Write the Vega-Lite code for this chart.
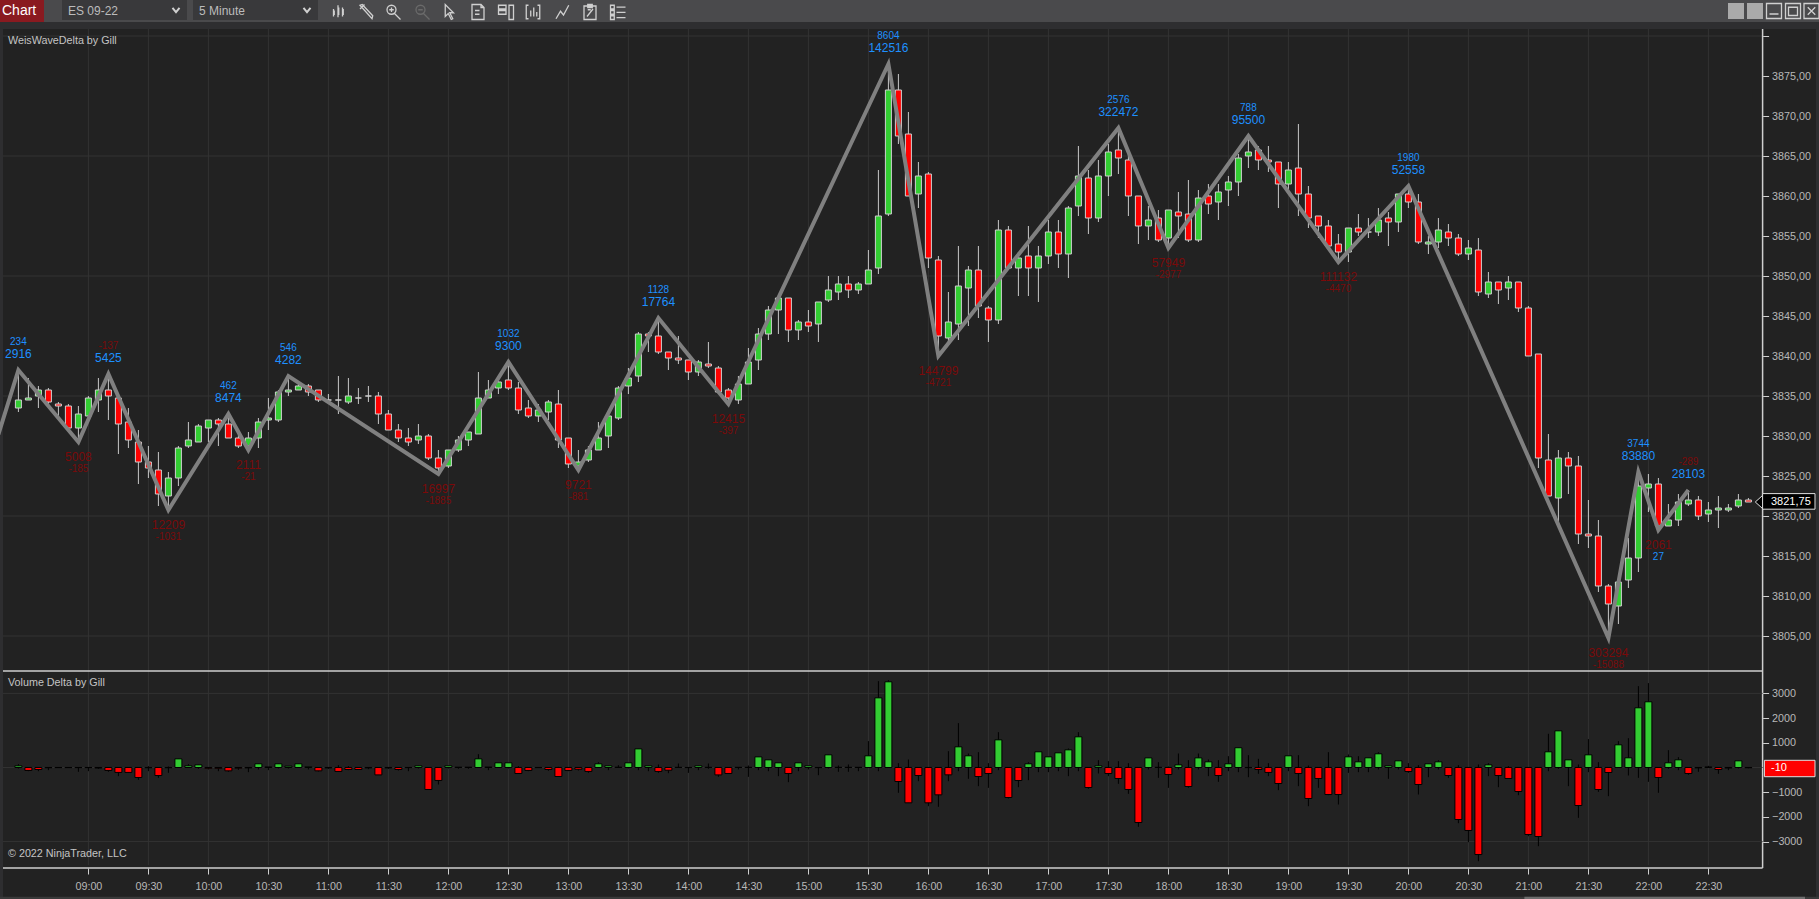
{
"$schema":"https://vega.github.io/schema/vega-lite/v6.json",
"background":"#222222","padding":0,
"autosize":{"type":"none"},
"width":1819,"height":899,
"config":{"view":{"stroke":null},"font":"Liberation Sans","axis":{"labelFont":"Liberation Sans","labelColor":"#b8b8b8","labelFontSize":10.75,"title":null}},
"datasets":{
"bars":[
{"t":"2022-07-01T08:25","o":3833.5,"h":3838.25,"l":3833,"c":3834.5,"d":68,"dh":135,"dl":-40},
{"t":"2022-07-01T08:30","o":3834.5,"h":3837.25,"l":3834.5,"c":3834.75,"d":-120,"dh":0,"dl":-149},
{"t":"2022-07-01T08:35","o":3835,"h":3836.25,"l":3833.5,"c":3835.75,"d":-80,"dh":0,"dl":-149},
{"t":"2022-07-01T08:40","o":3835.75,"h":3836,"l":3834,"c":3834.25,"d":-10,"dh":0,"dl":-108},
{"t":"2022-07-01T08:45","o":3834,"h":3834.25,"l":3832.5,"c":3833.75,"d":-5,"dh":0,"dl":-5},
{"t":"2022-07-01T08:50","o":3833.75,"h":3834,"l":3831,"c":3831,"d":-5,"dh":0,"dl":-5},
{"t":"2022-07-01T08:55","o":3831,"h":3833.75,"l":3829.25,"c":3832.75,"d":-5,"dh":0,"dl":-176},
{"t":"2022-07-01T09:00","o":3832.5,"h":3835,"l":3832.5,"c":3834.75,"d":-5,"dh":0,"dl":-149},
{"t":"2022-07-01T09:05","o":3834.5,"h":3837.25,"l":3833,"c":3835.75,"d":-20,"dh":0,"dl":-54},
{"t":"2022-07-01T09:10","o":3835.75,"h":3837.75,"l":3832,"c":3835,"d":-120,"dh":0,"dl":-176},
{"t":"2022-07-01T09:15","o":3834.75,"h":3834.75,"l":3827.75,"c":3831.5,"d":-200,"dh":0,"dl":-351},
{"t":"2022-07-01T09:20","o":3831.75,"h":3833.5,"l":3828.5,"c":3829.5,"d":-200,"dh":0,"dl":-200},
{"t":"2022-07-01T09:25","o":3829.25,"h":3830.75,"l":3824,"c":3826.75,"d":-405,"dh":0,"dl":-500},
{"t":"2022-07-01T09:30","o":3826.75,"h":3828.75,"l":3824.75,"c":3826,"d":-10,"dh":54,"dl":-149},
{"t":"2022-07-01T09:35","o":3825.75,"h":3828,"l":3821.25,"c":3822.75,"d":-325,"dh":0,"dl":-419},
{"t":"2022-07-01T09:40","o":3822.5,"h":3825.5,"l":3820.75,"c":3824.75,"d":-10,"dh":40,"dl":-216},
{"t":"2022-07-01T09:45","o":3824.75,"h":3828.75,"l":3823.75,"c":3828.5,"d":350,"dh":350,"dl":0},
{"t":"2022-07-01T09:50","o":3828.75,"h":3831.75,"l":3828.5,"c":3829.5,"d":68,"dh":135,"dl":0},
{"t":"2022-07-01T09:55","o":3829.25,"h":3831.5,"l":3829.25,"c":3831.25,"d":108,"dh":108,"dl":-54},
{"t":"2022-07-01T10:00","o":3831,"h":3832,"l":3829.25,"c":3832,"d":-30,"dh":0,"dl":-81},
{"t":"2022-07-01T10:05","o":3832,"h":3832.25,"l":3828.75,"c":3831.5,"d":-30,"dh":0,"dl":-149},
{"t":"2022-07-01T10:10","o":3831.5,"h":3832.75,"l":3829.75,"c":3829.75,"d":-135,"dh":0,"dl":-176},
{"t":"2022-07-01T10:15","o":3829.75,"h":3830.25,"l":3828.5,"c":3828.75,"d":-25,"dh":0,"dl":-95},
{"t":"2022-07-01T10:20","o":3828.75,"h":3830.5,"l":3828.25,"c":3829.75,"d":-15,"dh":0,"dl":-189},
{"t":"2022-07-01T10:25","o":3829.75,"h":3832.25,"l":3828.5,"c":3831.75,"d":150,"dh":150,"dl":-81},
{"t":"2022-07-01T10:30","o":3832,"h":3834.75,"l":3830.75,"c":3832.25,"d":20,"dh":20,"dl":-108},
{"t":"2022-07-01T10:35","o":3832,"h":3835.75,"l":3831.75,"c":3835.5,"d":150,"dh":150,"dl":-40},
{"t":"2022-07-01T10:40","o":3835.5,"h":3837.5,"l":3835,"c":3835.75,"d":55,"dh":55,"dl":-40},
{"t":"2022-07-01T10:45","o":3835.75,"h":3836.5,"l":3835.75,"c":3836.25,"d":150,"dh":150,"dl":-15},
{"t":"2022-07-01T10:50","o":3836.25,"h":3836.5,"l":3835,"c":3835.5,"d":25,"dh":25,"dl":-81},
{"t":"2022-07-01T10:55","o":3835.75,"h":3835.75,"l":3834.25,"c":3834.5,"d":-135,"dh":0,"dl":-162},
{"t":"2022-07-01T11:00","o":3834.5,"h":3835.25,"l":3834.25,"c":3834.5,"d":-15,"dh":0,"dl":-54},
{"t":"2022-07-01T11:05","o":3834.5,"h":3837.5,"l":3832.75,"c":3834.5,"d":-160,"dh":95,"dl":-160},
{"t":"2022-07-01T11:10","o":3834.25,"h":3837.25,"l":3834,"c":3835,"d":-80,"dh":54,"dl":-108},
{"t":"2022-07-01T11:15","o":3834.75,"h":3836,"l":3834,"c":3834.75,"d":-80,"dh":0,"dl":-80},
{"t":"2022-07-01T11:20","o":3835,"h":3836.25,"l":3834.25,"c":3835,"d":-15,"dh":0,"dl":-68},
{"t":"2022-07-01T11:25","o":3835,"h":3835.5,"l":3831.5,"c":3832.75,"d":-300,"dh":0,"dl":-300},
{"t":"2022-07-01T11:30","o":3832.75,"h":3833.25,"l":3830.75,"c":3830.75,"d":-15,"dh":0,"dl":-54},
{"t":"2022-07-01T11:35","o":3830.75,"h":3831.5,"l":3829.25,"c":3829.75,"d":-80,"dh":0,"dl":-122},
{"t":"2022-07-01T11:40","o":3829.75,"h":3831,"l":3828.75,"c":3829.25,"d":-5,"dh":0,"dl":-149},
{"t":"2022-07-01T11:45","o":3829.5,"h":3831.5,"l":3829,"c":3830,"d":68,"dh":68,"dl":-40},
{"t":"2022-07-01T11:50","o":3830,"h":3830.25,"l":3827,"c":3827.25,"d":-890,"dh":0,"dl":-890},
{"t":"2022-07-01T11:55","o":3827.25,"h":3828.25,"l":3825.25,"c":3826,"d":-525,"dh":0,"dl":-689},
{"t":"2022-07-01T12:00","o":3826.25,"h":3828.25,"l":3826,"c":3828.25,"d":68,"dh":68,"dl":-40},
{"t":"2022-07-01T12:05","o":3828.25,"h":3830,"l":3828,"c":3829.5,"d":10,"dh":10,"dl":-54},
{"t":"2022-07-01T12:10","o":3829.5,"h":3830.5,"l":3828.75,"c":3830.5,"d":10,"dh":10,"dl":-54},
{"t":"2022-07-01T12:15","o":3830.25,"h":3838,"l":3830.25,"c":3834.75,"d":350,"dh":540,"dl":0},
{"t":"2022-07-01T12:20","o":3834.75,"h":3837,"l":3834.75,"c":3835.75,"d":15,"dh":15,"dl":-108},
{"t":"2022-07-01T12:25","o":3836,"h":3837,"l":3835.25,"c":3836.75,"d":190,"dh":190,"dl":0},
{"t":"2022-07-01T12:30","o":3837,"h":3839.25,"l":3835.75,"c":3836,"d":190,"dh":190,"dl":-40},
{"t":"2022-07-01T12:35","o":3836,"h":3836.75,"l":3832.75,"c":3833.25,"d":-243,"dh":54,"dl":-243},
{"t":"2022-07-01T12:40","o":3833.5,"h":3834.5,"l":3832.25,"c":3832.5,"d":-120,"dh":0,"dl":-149},
{"t":"2022-07-01T12:45","o":3832.5,"h":3834,"l":3831.75,"c":3833.25,"d":-5,"dh":0,"dl":-5},
{"t":"2022-07-01T12:50","o":3833,"h":3834.5,"l":3832,"c":3834.25,"d":-80,"dh":0,"dl":-135},
{"t":"2022-07-01T12:55","o":3834,"h":3835.75,"l":3828.5,"c":3829.5,"d":-365,"dh":27,"dl":-365},
{"t":"2022-07-01T13:00","o":3829.75,"h":3829.75,"l":3826,"c":3826.5,"d":-120,"dh":0,"dl":-149},
{"t":"2022-07-01T13:05","o":3826.25,"h":3828.25,"l":3825.5,"c":3826.75,"d":-70,"dh":0,"dl":-122},
{"t":"2022-07-01T13:10","o":3827,"h":3828.75,"l":3826.75,"c":3828.25,"d":-160,"dh":0,"dl":-216},
{"t":"2022-07-01T13:15","o":3828.25,"h":3831.75,"l":3828.25,"c":3829.75,"d":150,"dh":216,"dl":0},
{"t":"2022-07-01T13:20","o":3830,"h":3832.75,"l":3828.5,"c":3832.5,"d":68,"dh":68,"dl":-108},
{"t":"2022-07-01T13:25","o":3832.25,"h":3836.25,"l":3832,"c":3836,"d":10,"dh":95,"dl":-20},
{"t":"2022-07-01T13:30","o":3836.25,"h":3838.5,"l":3835.25,"c":3837.25,"d":190,"dh":190,"dl":-40},
{"t":"2022-07-01T13:35","o":3837.5,"h":3843,"l":3836.75,"c":3842.75,"d":755,"dh":755,"dl":-108},
{"t":"2022-07-01T13:40","o":3842.75,"h":3843,"l":3840.5,"c":3842.5,"d":68,"dh":68,"dl":-149},
{"t":"2022-07-01T13:45","o":3842.5,"h":3844.75,"l":3840.25,"c":3840.5,"d":-160,"dh":122,"dl":-216},
{"t":"2022-07-01T13:50","o":3840.5,"h":3840.5,"l":3838.25,"c":3839.75,"d":-110,"dh":0,"dl":-230},
{"t":"2022-07-01T13:55","o":3839.75,"h":3842.5,"l":3839,"c":3839.5,"d":5,"dh":162,"dl":-20},
{"t":"2022-07-01T14:00","o":3839.5,"h":3839.5,"l":3837,"c":3838,"d":-3,"dh":0,"dl":-216},
{"t":"2022-07-01T14:05","o":3838,"h":3839.5,"l":3837.5,"c":3839.25,"d":68,"dh":68,"dl":-108},
{"t":"2022-07-01T14:10","o":3839,"h":3841.75,"l":3838.5,"c":3838.75,"d":5,"dh":162,"dl":-54},
{"t":"2022-07-01T14:15","o":3838.5,"h":3838.75,"l":3835.25,"c":3835.5,"d":-300,"dh":0,"dl":-378},
{"t":"2022-07-01T14:20","o":3835.75,"h":3836,"l":3834,"c":3834.75,"d":-243,"dh":0,"dl":-243},
{"t":"2022-07-01T14:25","o":3834.5,"h":3837.5,"l":3834,"c":3836.5,"d":5,"dh":5,"dl":-81},
{"t":"2022-07-01T14:30","o":3836.5,"h":3841,"l":3836.5,"c":3839.25,"d":5,"dh":81,"dl":-378},
{"t":"2022-07-01T14:35","o":3839.5,"h":3843.5,"l":3838.25,"c":3842.75,"d":430,"dh":430,"dl":-108},
{"t":"2022-07-01T14:40","o":3842.75,"h":3846.25,"l":3842,"c":3845.75,"d":310,"dh":310,"dl":-149},
{"t":"2022-07-01T14:45","o":3845.75,"h":3847.5,"l":3842.75,"c":3847.25,"d":190,"dh":190,"dl":-351},
{"t":"2022-07-01T14:50","o":3847.25,"h":3847.25,"l":3841.75,"c":3843.25,"d":-243,"dh":0,"dl":-594},
{"t":"2022-07-01T14:55","o":3843.25,"h":3844.5,"l":3842,"c":3844.25,"d":190,"dh":190,"dl":-149},
{"t":"2022-07-01T15:00","o":3844.25,"h":3845.75,"l":3843,"c":3843.75,"d":68,"dh":68,"dl":-81},
{"t":"2022-07-01T15:05","o":3844,"h":3846.75,"l":3841.75,"c":3846.75,"d":-5,"dh":0,"dl":-311},
{"t":"2022-07-01T15:10","o":3847,"h":3850,"l":3846.75,"c":3848.25,"d":513,"dh":513,"dl":-40},
{"t":"2022-07-01T15:15","o":3848,"h":3850,"l":3847,"c":3849,"d":5,"dh":81,"dl":-176},
{"t":"2022-07-01T15:20","o":3849,"h":3850,"l":3847.25,"c":3848.25,"d":5,"dh":122,"dl":-176},
{"t":"2022-07-01T15:25","o":3848.25,"h":3849.25,"l":3847.75,"c":3849,"d":5,"dh":5,"dl":-149},
{"t":"2022-07-01T15:30","o":3849,"h":3853.25,"l":3849,"c":3850.75,"d":473,"dh":1067,"dl":0},
{"t":"2022-07-01T15:35","o":3851,"h":3863.25,"l":3850.25,"c":3857.5,"d":2820,"dh":3497,"dl":-149},
{"t":"2022-07-01T15:40","o":3857.75,"h":3876.5,"l":3857.5,"c":3873.25,"d":3470,"dh":3537,"dl":0},
{"t":"2022-07-01T15:45","o":3873.25,"h":3875.25,"l":3866.5,"c":3867.5,"d":-567,"dh":176,"dl":-1026},
{"t":"2022-07-01T15:50","o":3867.75,"h":3870.5,"l":3860,"c":3860,"d":-1430,"dh":324,"dl":-1430},
{"t":"2022-07-01T15:55","o":3860.25,"h":3864.25,"l":3858.5,"c":3862.5,"d":-324,"dh":0,"dl":-554},
{"t":"2022-07-01T16:00","o":3862.75,"h":3863,"l":3851,"c":3852.25,"d":-1430,"dh":0,"dl":-1566},
{"t":"2022-07-01T16:05","o":3852,"h":3852.5,"l":3840,"c":3842.5,"d":-1107,"dh":0,"dl":-1593},
{"t":"2022-07-01T16:10","o":3842.25,"h":3848,"l":3841.75,"c":3844.25,"d":-297,"dh":662,"dl":-554},
{"t":"2022-07-01T16:15","o":3844,"h":3853.75,"l":3842,"c":3848.75,"d":837,"dh":1796,"dl":-149},
{"t":"2022-07-01T16:20","o":3848.5,"h":3851.25,"l":3843.75,"c":3850.75,"d":473,"dh":567,"dl":-459},
{"t":"2022-07-01T16:25","o":3850.75,"h":3853.75,"l":3844.75,"c":3846.25,"d":-365,"dh":621,"dl":-756},
{"t":"2022-07-01T16:30","o":3846,"h":3846.25,"l":3841.75,"c":3844.5,"d":-243,"dh":176,"dl":-824},
{"t":"2022-07-01T16:35","o":3844.5,"h":3857,"l":3844,"c":3855.75,"d":1120,"dh":1431,"dl":-108},
{"t":"2022-07-01T16:40","o":3855.75,"h":3856.25,"l":3851,"c":3851,"d":-1215,"dh":0,"dl":-1256},
{"t":"2022-07-01T16:45","o":3851,"h":3853,"l":3847.5,"c":3852.25,"d":-526,"dh":0,"dl":-797},
{"t":"2022-07-01T16:50","o":3852.5,"h":3856.25,"l":3847.5,"c":3851,"d":150,"dh":216,"dl":-513},
{"t":"2022-07-01T16:55","o":3851,"h":3853.75,"l":3846.75,"c":3852.5,"d":635,"dh":635,"dl":-189},
{"t":"2022-07-01T17:00","o":3852.5,"h":3857,"l":3851.5,"c":3855.5,"d":432,"dh":432,"dl":-189},
{"t":"2022-07-01T17:05","o":3855.5,"h":3857,"l":3851,"c":3852.75,"d":594,"dh":594,"dl":-149},
{"t":"2022-07-01T17:10","o":3852.75,"h":3858.75,"l":3849.75,"c":3858.5,"d":715,"dh":770,"dl":-351},
{"t":"2022-07-01T17:15","o":3858.75,"h":3866.25,"l":3857.5,"c":3862.5,"d":1242,"dh":1431,"dl":-149},
{"t":"2022-07-01T17:20","o":3862.25,"h":3863.25,"l":3855.25,"c":3857.25,"d":-810,"dh":0,"dl":-864},
{"t":"2022-07-01T17:25","o":3857.25,"h":3864.5,"l":3856.75,"c":3862.5,"d":68,"dh":297,"dl":-243},
{"t":"2022-07-01T17:30","o":3862.5,"h":3866.5,"l":3860,"c":3865.5,"d":-243,"dh":257,"dl":-351},
{"t":"2022-07-01T17:35","o":3865.75,"h":3868.5,"l":3862.75,"c":3864.75,"d":-445,"dh":257,"dl":-662},
{"t":"2022-07-01T17:40","o":3864.5,"h":3865.25,"l":3857.5,"c":3860,"d":-890,"dh":176,"dl":-1067},
{"t":"2022-07-01T17:45","o":3860,"h":3860,"l":3854,"c":3856.25,"d":-2228,"dh":0,"dl":-2403},
{"t":"2022-07-01T17:50","o":3856.25,"h":3858.75,"l":3854.5,"c":3857,"d":390,"dh":390,"dl":-81},
{"t":"2022-07-01T17:55","o":3857.25,"h":3858.25,"l":3854.25,"c":3854.5,"d":5,"dh":216,"dl":-419},
{"t":"2022-07-01T18:00","o":3854.75,"h":3858.25,"l":3853.5,"c":3858.25,"d":-283,"dh":40,"dl":-824},
{"t":"2022-07-01T18:05","o":3858,"h":3860.5,"l":3854.75,"c":3857.5,"d":108,"dh":567,"dl":-81},
{"t":"2022-07-01T18:10","o":3857.75,"h":3862,"l":3854.25,"c":3854.5,"d":-770,"dh":297,"dl":-824},
{"t":"2022-07-01T18:15","o":3854.5,"h":3860.75,"l":3854.25,"c":3859.75,"d":390,"dh":567,"dl":-81},
{"t":"2022-07-01T18:20","o":3860,"h":3861.5,"l":3857.75,"c":3859,"d":230,"dh":324,"dl":-351},
{"t":"2022-07-01T18:25","o":3859.25,"h":3861.5,"l":3857,"c":3860.5,"d":-324,"dh":297,"dl":-581},
{"t":"2022-07-01T18:30","o":3860.75,"h":3862.5,"l":3858.75,"c":3861.75,"d":150,"dh":459,"dl":-149},
{"t":"2022-07-01T18:35","o":3861.75,"h":3865.25,"l":3860,"c":3864.75,"d":800,"dh":800,"dl":-189},
{"t":"2022-07-01T18:40","o":3865,"h":3867.5,"l":3863.5,"c":3865.5,"d":-5,"dh":500,"dl":-392},
{"t":"2022-07-01T18:45","o":3865.75,"h":3866.25,"l":3863.25,"c":3864.5,"d":-80,"dh":351,"dl":-257},
{"t":"2022-07-01T18:50","o":3864.5,"h":3866.25,"l":3863,"c":3864.25,"d":-200,"dh":176,"dl":-351},
{"t":"2022-07-01T18:55","o":3864.25,"h":3864.25,"l":3858.5,"c":3861.5,"d":-648,"dh":0,"dl":-918},
{"t":"2022-07-01T19:00","o":3861.5,"h":3864.25,"l":3860.75,"c":3863.25,"d":473,"dh":473,"dl":-149},
{"t":"2022-07-01T19:05","o":3863.5,"h":3869,"l":3857.5,"c":3860.25,"d":-243,"dh":500,"dl":-756},
{"t":"2022-07-01T19:10","o":3860.25,"h":3861.25,"l":3856,"c":3857.25,"d":-1255,"dh":81,"dl":-1566},
{"t":"2022-07-01T19:15","o":3857.5,"h":3857.5,"l":3854.75,"c":3856.25,"d":-445,"dh":0,"dl":-824},
{"t":"2022-07-01T19:20","o":3856.25,"h":3857,"l":3853.75,"c":3853.75,"d":-1094,"dh":621,"dl":-1121},
{"t":"2022-07-01T19:25","o":3854,"h":3855.25,"l":3851.75,"c":3853,"d":-1094,"dh":0,"dl":-1499},
{"t":"2022-07-01T19:30","o":3853,"h":3856,"l":3851.75,"c":3856,"d":432,"dh":527,"dl":-216},
{"t":"2022-07-01T19:35","o":3856,"h":3857.75,"l":3855,"c":3855.5,"d":230,"dh":459,"dl":-189},
{"t":"2022-07-01T19:40","o":3855.5,"h":3857.25,"l":3854.75,"c":3855.5,"d":392,"dh":392,"dl":-189},
{"t":"2022-07-01T19:45","o":3855.5,"h":3858.5,"l":3855,"c":3857,"d":554,"dh":621,"dl":-81},
{"t":"2022-07-01T19:50","o":3857.25,"h":3858,"l":3853.75,"c":3856.75,"d":68,"dh":68,"dl":-459},
{"t":"2022-07-01T19:55","o":3856.75,"h":3860.25,"l":3855.5,"c":3860.25,"d":270,"dh":270,"dl":-81},
{"t":"2022-07-01T20:00","o":3860.25,"h":3861.25,"l":3858.5,"c":3859.25,"d":-162,"dh":176,"dl":-216},
{"t":"2022-07-01T20:05","o":3859.25,"h":3860.25,"l":3854,"c":3854.25,"d":-689,"dh":95,"dl":-1094},
{"t":"2022-07-01T20:10","o":3854,"h":3855,"l":3852.75,"c":3854.25,"d":150,"dh":150,"dl":-392},
{"t":"2022-07-01T20:15","o":3854.25,"h":3857.25,"l":3853.5,"c":3855.75,"d":230,"dh":297,"dl":-81},
{"t":"2022-07-01T20:20","o":3855.5,"h":3856.5,"l":3853.75,"c":3854.75,"d":-324,"dh":0,"dl":-419},
{"t":"2022-07-01T20:25","o":3854.75,"h":3855.25,"l":3852.5,"c":3852.75,"d":-2106,"dh":95,"dl":-2255},
{"t":"2022-07-01T20:30","o":3852.75,"h":3854.5,"l":3852,"c":3853.5,"d":-2550,"dh":0,"dl":-3024},
{"t":"2022-07-01T20:35","o":3853.25,"h":3854.75,"l":3847.5,"c":3848,"d":-3524,"dh":122,"dl":-3794},
{"t":"2022-07-01T20:40","o":3847.75,"h":3850.5,"l":3847.25,"c":3849.25,"d":108,"dh":176,"dl":-351},
{"t":"2022-07-01T20:45","o":3849.25,"h":3849.25,"l":3846.5,"c":3848.25,"d":-324,"dh":0,"dl":-797},
{"t":"2022-07-01T20:50","o":3848.5,"h":3850,"l":3847,"c":3849.25,"d":-445,"dh":54,"dl":-445},
{"t":"2022-07-01T20:55","o":3849.25,"h":3849.25,"l":3845.5,"c":3846,"d":-972,"dh":0,"dl":-1121},
{"t":"2022-07-01T21:00","o":3846,"h":3846.25,"l":3840,"c":3840,"d":-2713,"dh":0,"dl":-2781},
{"t":"2022-07-01T21:05","o":3840.25,"h":3840.25,"l":3826,"c":3827.25,"d":-2794,"dh":0,"dl":-3186},
{"t":"2022-07-01T21:10","o":3827,"h":3830.25,"l":3822.5,"c":3822.5,"d":635,"dh":1364,"dl":-149},
{"t":"2022-07-01T21:15","o":3822.25,"h":3828.25,"l":3819.25,"c":3827.25,"d":1485,"dh":1485,"dl":-54},
{"t":"2022-07-01T21:20","o":3827.25,"h":3828,"l":3822.75,"c":3826.25,"d":310,"dh":310,"dl":-756},
{"t":"2022-07-01T21:25","o":3826.25,"h":3827.5,"l":3816.5,"c":3817.75,"d":-1539,"dh":122,"dl":-2039},
{"t":"2022-07-01T21:30","o":3817.75,"h":3822,"l":3816,"c":3817.5,"d":513,"dh":1148,"dl":-189},
{"t":"2022-07-01T21:35","o":3817.5,"h":3819.5,"l":3810.5,"c":3811.25,"d":-891,"dh":216,"dl":-986},
{"t":"2022-07-01T21:40","o":3811.25,"h":3811.5,"l":3804.75,"c":3809,"d":-203,"dh":14,"dl":-1161},
{"t":"2022-07-01T21:45","o":3808.75,"h":3811.75,"l":3806.5,"c":3811.75,"d":918,"dh":1067,"dl":0},
{"t":"2022-07-01T21:50","o":3812,"h":3817.25,"l":3811,"c":3814.75,"d":392,"dh":1188,"dl":-324},
{"t":"2022-07-01T21:55","o":3814.75,"h":3825.25,"l":3813,"c":3823.75,"d":2417,"dh":3294,"dl":-419},
{"t":"2022-07-01T22:00","o":3823.5,"h":3825.25,"l":3820.5,"c":3824,"d":2660,"dh":3416,"dl":-581},
{"t":"2022-07-01T22:05","o":3824,"h":3824.75,"l":3818.25,"c":3818.75,"d":-405,"dh":0,"dl":-1026},
{"t":"2022-07-01T22:10","o":3818.75,"h":3821.5,"l":3818.75,"c":3819.5,"d":190,"dh":702,"dl":-54},
{"t":"2022-07-01T22:15","o":3819.5,"h":3822.75,"l":3818.75,"c":3821.75,"d":310,"dh":419,"dl":-108},
{"t":"2022-07-01T22:20","o":3821.5,"h":3823.25,"l":3821.25,"c":3822,"d":-243,"dh":0,"dl":-297},
{"t":"2022-07-01T22:25","o":3822,"h":3822.5,"l":3819.5,"c":3820,"d":-15,"dh":0,"dl":-176},
{"t":"2022-07-01T22:30","o":3820.25,"h":3821.75,"l":3819.25,"c":3820.75,"d":20,"dh":68,"dl":0},
{"t":"2022-07-01T22:35","o":3820.75,"h":3822.5,"l":3818.5,"c":3821,"d":-80,"dh":0,"dl":-257},
{"t":"2022-07-01T22:40","o":3820.75,"h":3821.5,"l":3820.5,"c":3821,"d":-20,"dh":0,"dl":-108},
{"t":"2022-07-01T22:45","o":3821.25,"h":3822.75,"l":3821,"c":3822,"d":270,"dh":270,"dl":-40},
{"t":"2022-07-01T22:50","o":3822,"h":3822.25,"l":3821.75,"c":3821.75,"d":-10,"dh":0,"dl":-30}
],
"pivots":[
{"t":"2022-07-01T08:15","p":3830.2,"kind":"start"},
{"t":"2022-07-01T08:25","p":3838.25,"kind":"peak","vol":"2916","delta":234},
{"t":"2022-07-01T08:55","p":3829.25,"kind":"trough","vol":"5008","delta":-185},
{"t":"2022-07-01T09:10","p":3837.75,"kind":"peak","vol":"5425","delta":-137},
{"t":"2022-07-01T09:40","p":3820.75,"kind":"trough","vol":"12209","delta":-1031},
{"t":"2022-07-01T10:10","p":3832.75,"kind":"peak","vol":"8474","delta":462},
{"t":"2022-07-01T10:20","p":3828.25,"kind":"trough","vol":"2111","delta":-21},
{"t":"2022-07-01T10:40","p":3837.5,"kind":"peak","vol":"4282","delta":546},
{"t":"2022-07-01T11:55","p":3825.25,"kind":"trough","vol":"16997","delta":-1885},
{"t":"2022-07-01T12:30","p":3839.25,"kind":"peak","vol":"9300","delta":1032},
{"t":"2022-07-01T13:05","p":3825.75,"kind":"trough","vol":"9721","delta":-881},
{"t":"2022-07-01T13:45","p":3844.75,"kind":"peak","vol":"17764","delta":1128},
{"t":"2022-07-01T14:20","p":3834,"kind":"trough","vol":"12415","delta":-397},
{"t":"2022-07-01T15:40","p":3876.5,"kind":"peak","vol":"142516","delta":8604},
{"t":"2022-07-01T16:05","p":3840,"kind":"trough","vol":"144799","delta":-4721},
{"t":"2022-07-01T17:35","p":3868.5,"kind":"peak","vol":"322472","delta":2576},
{"t":"2022-07-01T18:00","p":3853.5,"kind":"trough","vol":"57949","delta":-2977},
{"t":"2022-07-01T18:40","p":3867.5,"kind":"peak","vol":"95500","delta":788},
{"t":"2022-07-01T19:25","p":3851.75,"kind":"trough","vol":"111132","delta":-4470},
{"t":"2022-07-01T20:00","p":3861.25,"kind":"peak","vol":"52558","delta":1980},
{"t":"2022-07-01T21:40","p":3804.75,"kind":"trough","vol":"303294","delta":-15088},
{"t":"2022-07-01T21:55","p":3825.5,"kind":"peak","vol":"83880","delta":3744},
{"t":"2022-07-01T22:05","p":3818.25,"kind":"trough","vol":"2061","delta":27},
{"t":"2022-07-01T22:20","p":3823.25,"kind":"peak","vol":"28103","delta":-289}
],
"chrome":[
{"part":"toolbar","t":"2022-07-01T08:15:48","t2":"2022-07-01T23:25:18","p":3884.5,"p2":3881.75},
{"part":"strip","t":"2022-07-01T08:15:48","t2":"2022-07-01T23:25:18","p":3881.75,"p2":3880.875},
{"part":"strip","t":"2022-07-01T08:15:48","t2":"2022-07-01T08:17:18","p":3880.875,"p2":3772.125},
{"part":"strip","t":"2022-07-01T23:23:48","t2":"2022-07-01T23:25:18","p":3880.875,"p2":3772.125},
{"part":"chart","t":"2022-07-01T08:15:48","t2":"2022-07-01T08:37:48","p":3884.5,"p2":3881.75},
{"part":"drop","t":"2022-07-01T08:46:48","t2":"2022-07-01T09:49:18","p":3884.5,"p2":3882},
{"part":"drop","t":"2022-07-01T09:52:18","t2":"2022-07-01T10:54:48","p":3884.5,"p2":3882},
{"part":"button","t":"2022-07-01T22:39:48","t2":"2022-07-01T22:47:48","p":3884.125,"p2":3882.125},
{"part":"button","t":"2022-07-01T22:49:18","t2":"2022-07-01T22:57:18","p":3884.125,"p2":3882.125},
{"part":"track","t":"2022-07-01T08:15:48","t2":"2022-07-01T23:25:18","p":3772.4,"p2":3772.125},
{"part":"thumb","t":"2022-07-01T20:58:00","t2":"2022-07-01T23:18:18","p":3772.4,"p2":3772.125}
],
"icons":[
{"icon":"candles","t":"2022-07-01T11:04:48","p":3883},
{"icon":"pencil","t":"2022-07-01T11:18:48","p":3883},
{"icon":"zoomin","t":"2022-07-01T11:32:18","p":3883},
{"icon":"zoomout","t":"2022-07-01T11:46:48","p":3883},
{"icon":"cursor","t":"2022-07-01T12:00:18","p":3883},
{"icon":"doc","t":"2022-07-01T12:14:48","p":3883},
{"icon":"props","t":"2022-07-01T12:28:48","p":3883},
{"icon":"indicators","t":"2022-07-01T12:42:18","p":3883},
{"icon":"lines","t":"2022-07-01T12:56:48","p":3883},
{"icon":"clip","t":"2022-07-01T13:10:48","p":3883},
{"icon":"list","t":"2022-07-01T13:24:48","p":3883},
{"icon":"min","t":"2022-07-01T23:02:48","p":3883.125},
{"icon":"max","t":"2022-07-01T23:12:18","p":3883.125},
{"icon":"close","t":"2022-07-01T23:21:33","p":3883.125}
],
"timeGrid":[
{"t":"2022-07-01T09:00","p":3880.875,"p2":3776.375},{"t":"2022-07-01T09:30","p":3880.875,"p2":3776.375},{"t":"2022-07-01T10:00","p":3880.875,"p2":3776.375},{"t":"2022-07-01T10:30","p":3880.875,"p2":3776.375},{"t":"2022-07-01T11:00","p":3880.875,"p2":3776.375},{"t":"2022-07-01T11:30","p":3880.875,"p2":3776.375},{"t":"2022-07-01T12:00","p":3880.875,"p2":3776.375},{"t":"2022-07-01T12:30","p":3880.875,"p2":3776.375},{"t":"2022-07-01T13:00","p":3880.875,"p2":3776.375},{"t":"2022-07-01T13:30","p":3880.875,"p2":3776.375},{"t":"2022-07-01T14:00","p":3880.875,"p2":3776.375},{"t":"2022-07-01T14:30","p":3880.875,"p2":3776.375},{"t":"2022-07-01T15:00","p":3880.875,"p2":3776.375},{"t":"2022-07-01T15:30","p":3880.875,"p2":3776.375},{"t":"2022-07-01T16:00","p":3880.875,"p2":3776.375},{"t":"2022-07-01T16:30","p":3880.875,"p2":3776.375},{"t":"2022-07-01T17:00","p":3880.875,"p2":3776.375},{"t":"2022-07-01T17:30","p":3880.875,"p2":3776.375},{"t":"2022-07-01T18:00","p":3880.875,"p2":3776.375},{"t":"2022-07-01T18:30","p":3880.875,"p2":3776.375},{"t":"2022-07-01T19:00","p":3880.875,"p2":3776.375},{"t":"2022-07-01T19:30","p":3880.875,"p2":3776.375},{"t":"2022-07-01T20:00","p":3880.875,"p2":3776.375},{"t":"2022-07-01T20:30","p":3880.875,"p2":3776.375},{"t":"2022-07-01T21:00","p":3880.875,"p2":3776.375},{"t":"2022-07-01T21:30","p":3880.875,"p2":3776.375},{"t":"2022-07-01T22:00","p":3880.875,"p2":3776.375},{"t":"2022-07-01T22:30","p":3880.875,"p2":3776.375}
]
},
"encoding":{
"x":{"field":"t","type":"temporal","scale":{"nice":false,"padding":0,"domain":[{"year":2022,"month":7,"date":1,"hours":8,"minutes":15,"seconds":48},{"year":2022,"month":7,"date":1,"hours":23,"minutes":25,"seconds":18}]},
"axis":{"orient":"bottom","offset":-31,"grid":false,"domain":false,"format":"%H:%M","labelAngle":0,"labelOverlap":false,"labelFlush":false,"tickColor":"#cfcfcf","tickSize":6,"labelPadding":7,
"values":[{"year":2022,"month":7,"date":1,"hours":9,"minutes":0},{"year":2022,"month":7,"date":1,"hours":9,"minutes":30},{"year":2022,"month":7,"date":1,"hours":10,"minutes":0},{"year":2022,"month":7,"date":1,"hours":10,"minutes":30},{"year":2022,"month":7,"date":1,"hours":11,"minutes":0},{"year":2022,"month":7,"date":1,"hours":11,"minutes":30},{"year":2022,"month":7,"date":1,"hours":12,"minutes":0},{"year":2022,"month":7,"date":1,"hours":12,"minutes":30},{"year":2022,"month":7,"date":1,"hours":13,"minutes":0},{"year":2022,"month":7,"date":1,"hours":13,"minutes":30},{"year":2022,"month":7,"date":1,"hours":14,"minutes":0},{"year":2022,"month":7,"date":1,"hours":14,"minutes":30},{"year":2022,"month":7,"date":1,"hours":15,"minutes":0},{"year":2022,"month":7,"date":1,"hours":15,"minutes":30},{"year":2022,"month":7,"date":1,"hours":16,"minutes":0},{"year":2022,"month":7,"date":1,"hours":16,"minutes":30},{"year":2022,"month":7,"date":1,"hours":17,"minutes":0},{"year":2022,"month":7,"date":1,"hours":17,"minutes":30},{"year":2022,"month":7,"date":1,"hours":18,"minutes":0},{"year":2022,"month":7,"date":1,"hours":18,"minutes":30},{"year":2022,"month":7,"date":1,"hours":19,"minutes":0},{"year":2022,"month":7,"date":1,"hours":19,"minutes":30},{"year":2022,"month":7,"date":1,"hours":20,"minutes":0},{"year":2022,"month":7,"date":1,"hours":20,"minutes":30},{"year":2022,"month":7,"date":1,"hours":21,"minutes":0},{"year":2022,"month":7,"date":1,"hours":21,"minutes":30},{"year":2022,"month":7,"date":1,"hours":22,"minutes":0},{"year":2022,"month":7,"date":1,"hours":22,"minutes":30}]}}
},
"resolve":{"scale":{"y":"independent"},"axis":{"y":"independent"}},
"layer":[
{
"encoding":{
"y":{"field":"p","type":"quantitative","scale":{"domain":[3772.125,3884.5],"zero":false,"nice":false},
"axis":{"orient":"right","offset":-56.4,"grid":false,"domain":false,"values":[3805,3810,3815,3820,3825,3830,3835,3840,3845,3850,3855,3860,3865,3870,3875,3880],"labelExpr":"datum.value>3875?'':replace(format(datum.value,'.2f'),'.',',')","tickColor":"#cfcfcf","tickSize":6,"labelPadding":3}}
},
"layer":[
{"data":{"name":"chrome"},"mark":{"type":"rect"},"encoding":{"x2":{"field":"t2"},"y2":{"field":"p2"},"color":{"field":"part","type":"nominal","legend":null,"scale":{"domain":["toolbar","strip","chart","drop","button","track","thumb"],"range":["#4a4a4c","#2e2e30","#8a1a20","#39393b","#aaaaaa","#3a3a3a","#6e6e6e"]}}}},
{"data":{"name":"timeGrid"},"mark":{"type":"rule","color":"#333333","strokeWidth":1},"encoding":{"y2":{"field":"p2"}}},
{"data":{"values":[{"t":"2022-07-01T08:17:18","t2":"2022-07-01T22:57:06","p":3880},{"t":"2022-07-01T08:17:18","t2":"2022-07-01T22:57:06","p":3865},{"t":"2022-07-01T08:17:18","t2":"2022-07-01T22:57:06","p":3850},{"t":"2022-07-01T08:17:18","t2":"2022-07-01T22:57:06","p":3835},{"t":"2022-07-01T08:17:18","t2":"2022-07-01T22:57:06","p":3820},{"t":"2022-07-01T08:17:18","t2":"2022-07-01T22:57:06","p":3805}]},"mark":{"type":"rule","color":"#333333","strokeWidth":1},"encoding":{"x2":{"field":"t2"}}},
{"data":{"name":"bars"},"mark":{"type":"rule","color":"#c8c8c8","strokeWidth":1},"encoding":{"y":{"field":"h","type":"quantitative"},"y2":{"field":"l"}}},
{"data":{"name":"bars"},"mark":{"type":"bar","size":6,"stroke":"#d0d0d0","strokeWidth":1},"encoding":{"y":{"field":"o","type":"quantitative"},"y2":{"field":"c"},"color":{"condition":{"test":"datum.c>=datum.o","value":"#32cd32"},"value":"#ff0000"}}},
{"data":{"name":"pivots"},"mark":{"type":"line","color":"#808080","strokeWidth":4,"clip":true,"strokeJoin":"miter"}},
{"data":{"name":"pivots"},"transform":[{"filter":"datum.kind==='peak'"}],"mark":{"type":"text","fontSize":12,"dy":-16,"color":"#1e90ff"},"encoding":{"text":{"field":"vol","type":"nominal"}}},
{"data":{"name":"pivots"},"transform":[{"filter":"datum.kind==='peak'"}],"mark":{"type":"text","fontSize":10,"dy":-28},"encoding":{"text":{"field":"delta","type":"nominal"},"color":{"condition":{"test":"datum.delta>=0","value":"#1e90ff"},"value":"#7a0a0a"}}},
{"data":{"name":"pivots"},"transform":[{"filter":"datum.kind==='trough'"}],"mark":{"type":"text","fontSize":12,"dy":15,"color":"#7a0a0a"},"encoding":{"text":{"field":"vol","type":"nominal"}}},
{"data":{"name":"pivots"},"transform":[{"filter":"datum.kind==='trough'"}],"mark":{"type":"text","fontSize":10,"dy":27},"encoding":{"text":{"field":"delta","type":"nominal"},"color":{"condition":{"test":"datum.delta>=0","value":"#1e90ff"},"value":"#7a0a0a"}}},
{"data":{"values":[{"label":"WeisWaveDelta by Gill","t":"2022-07-01T08:19:48","p":3879.375},{"label":"Volume Delta by Gill","t":"2022-07-01T08:19:48","p":3799.125},{"label":"© 2022 NinjaTrader, LLC","t":"2022-07-01T08:19:48","p":3777.75}]},"mark":{"type":"text","align":"left","fontSize":10.75,"color":"#c4c4c4"},"encoding":{"text":{"field":"label"}}},
{"data":{"values":[{"label":"Chart","t":"2022-07-01T08:16:48","p":3883.125}]},"mark":{"type":"text","align":"left","fontSize":14,"color":"#ffffff"},"encoding":{"text":{"field":"label"}}},
{"data":{"values":[{"label":"ES 09-22","t":"2022-07-01T08:49:48","p":3883.125},{"label":"5 Minute","t":"2022-07-01T09:55:18","p":3883.125}]},"mark":{"type":"text","align":"left","fontSize":12,"color":"#bcbcbc"},"encoding":{"text":{"field":"label"}}},
{"data":{"values":[{"t":"2022-07-01T09:43:48","p":3883.25},{"t":"2022-07-01T10:49:18","p":3883.25}]},"mark":{"type":"point","shape":"M-.5 -.3L0 .3L.5 -.3","size":196,"filled":false,"stroke":"#d0d0d0","strokeWidth":2,"opacity":1}},
{"data":{"name":"icons"},"mark":{"type":"point","size":900,"filled":false,"strokeWidth":1.3,"opacity":1},"encoding":{"shape":{"field":"icon","type":"nominal","legend":null,"scale":{"domain":["candles","pencil","zoomin","zoomout","cursor","doc","props","indicators","lines","clip","list","min","max","close"],"range":["M-.3 -.2V.3M0 -.45V.35M.3 -.3V.3M-.25 -.1V.2M.05 -.3V.2M.35 -.2V.2","M-.4 -.45L.4 .45L.45 .25L-.25 -.5ZM-.1 -.5L-.4 -.2","M.2 -.15A.3 .3 0 1 1 -.4 -.15A.3 .3 0 1 1 .2 -.15M.1 .1L.5 .5M-.25 -.15H.05M-.1 -.3V0","M.2 -.15A.3 .3 0 1 1 -.4 -.15A.3 .3 0 1 1 .2 -.15M.1 .1L.5 .5M-.25 -.15H.05","M-.25 -.5V.3L-.05 .1L.15 .5L.25 .45L.05 .05H.3Z","M-.4 -.5H.2L.4 -.3V.5H-.4ZM-.2 -.1H.1M-.2 .15H.1M.2 -.5V-.3H.4","M-.5 -.45H0V-.2H-.5ZM-.5 -.1H0V.15H-.5ZM.2 -.45H.5V.5H.2Z","M-.3 -.45H-.45V.45H-.3M.3 -.45H.45V.45H.3M-.15 .3V-.1M.05 .3V-.3M.25 .3V0","M-.4 .45L-.1 -.05L.1 .2L.45 -.45","M-.4 -.4H.4V.5H-.4ZM-.2 .3L.2 -.2M-.15 -.15H.05M-.15 -.5H.15V-.3H-.15Z","M-.5 -.45H-.25V-.2H-.5ZM-.5 -.1H-.25V.15H-.5ZM-.5 .25H-.25V.5H-.5ZM-.1 -.33H.5M-.1 .03H.5M-.1 .38H.5","M-.5 -.5H.5V.5H-.5ZM-.3 .2H.3","M-.5 -.5H.5V.5H-.5ZM-.3 -.25H.3V.3H-.3Z","M-.5 -.5H.5V.5H-.5ZM-.25 -.25L.25 .25M.25 -.25L-.25 .25"]}},"stroke":{"condition":{"test":"datum.icon==='zoomout'","value":"#6a6a6a"},"value":"#d0d0d0"}}},
{"data":{"values":[{"t":"2022-07-01T08:17:18","t2":"2022-07-01T22:57:06","p":3800.625},{"t":"2022-07-01T08:17:18","t2":"2022-07-01T22:57:06","p":3776}]},"mark":{"type":"rule","color":"#cfcfcf","strokeWidth":1.5},"encoding":{"x2":{"field":"t2"}}},
{"data":{"values":[{"t":"2022-07-01T22:57:06","p":3880.875,"p2":3776}]},"mark":{"type":"rule","color":"#cfcfcf","strokeWidth":1.5},"encoding":{"y2":{"field":"p2"}}},
{"data":{"values":[{"t":"2022-07-01T22:55:27","p":3821.75}]},"mark":{"type":"point","shape":"M.5 -.9L-.5 0L.5 .9Z","size":256,"filled":true,"fill":"#000000","stroke":"#e0e0e0","strokeWidth":1,"opacity":1}},
{"data":{"values":[{"t":"2022-07-01T22:57:06","t2":"2022-07-01T23:23:18","p":3822.8,"p2":3820.85}]},"mark":{"type":"rect","fill":"#000000","stroke":"#e0e0e0","strokeWidth":1},"encoding":{"x2":{"field":"t2"},"y2":{"field":"p2"}}},
{"data":{"values":[{"label":"3821,75","t":"2022-07-01T23:01:18","p":3821.75}]},"mark":{"type":"text","align":"left","fontSize":11,"color":"#ffffff"},"encoding":{"text":{"field":"label"}}}
]
},
{
"encoding":{
"y":{"field":"v","type":"quantitative","scale":{"domain":[-5324,31072],"zero":false,"nice":false},
"axis":{"orient":"right","offset":-56.4,"grid":false,"domain":false,"values":[-3000,-2000,-1000,1000,2000,3000],"format":"d","tickColor":"#cfcfcf","tickSize":6,"labelPadding":3}}
},
"layer":[
{"data":{"values":[{"t":"2022-07-01T08:17:18","t2":"2022-07-01T22:57:06","v":3000},{"t":"2022-07-01T08:17:18","t2":"2022-07-01T22:57:06","v":0},{"t":"2022-07-01T08:17:18","t2":"2022-07-01T22:57:06","v":-3000}]},"mark":{"type":"rule","color":"#333333","strokeWidth":1},"encoding":{"x2":{"field":"t2"}}},
{"data":{"name":"bars"},"mark":{"type":"rule","color":"#000000","strokeWidth":1},"encoding":{"y":{"field":"dh","type":"quantitative"},"y2":{"field":"dl"}}},
{"data":{"name":"bars"},"mark":{"type":"bar","size":7,"stroke":"#000000","strokeWidth":1},"encoding":{"y":{"field":"d","type":"quantitative"},"y2":{"datum":0},"color":{"condition":{"test":"datum.d>=0","value":"#32cd32"},"value":"#ff0000"}}},
{"data":{"values":[{"t":"2022-07-01T22:58:00","t2":"2022-07-01T23:23:18","v":291,"v2":-373}]},"mark":{"type":"rect","fill":"#ff0000","stroke":"#e0e0e0","strokeWidth":1},"encoding":{"x2":{"field":"t2"},"y2":{"field":"v2"}}},
{"data":{"values":[{"label":"-10","t":"2022-07-01T23:01:18","v":-40}]},"mark":{"type":"text","align":"left","fontSize":11,"color":"#ffffff"},"encoding":{"text":{"field":"label"}}}
]
}
]
}
